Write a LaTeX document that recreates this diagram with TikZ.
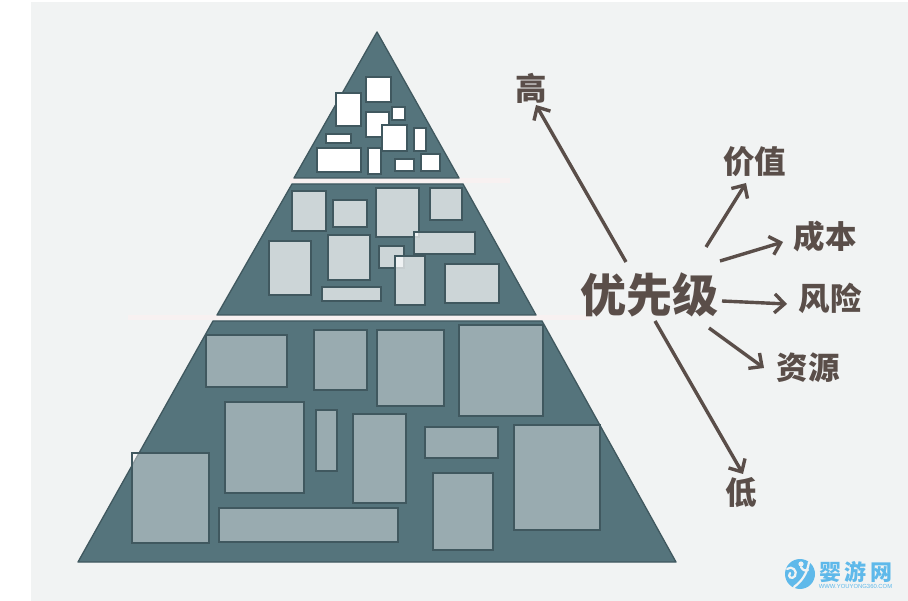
\documentclass[tikz,border=0pt]{standalone}
\usepackage{fontspec}
\usetikzlibrary{arrows.meta}
\newfontfamily\cjk{Noto Sans CJK SC}
\newfontfamily\latinwm{Liberation Sans}
\definecolor{panel}{HTML}{F1F3F3}
\definecolor{pyr}{HTML}{55747C}
\definecolor{edge}{HTML}{40585F}
\definecolor{ink}{HTML}{5A4E49}
\definecolor{band}{HTML}{F8F1F1}
\definecolor{wm}{HTML}{5FB9EA}
\tikzset{
  tier/.style={fill=pyr,draw=edge,line width=1.3pt,line join=round},
  boxa/.style={draw=edge,line width=1.8pt,fill=white},
  boxb/.style={draw=edge,line width=1.8pt,fill=white,fill opacity=.7},
  boxc/.style={draw=edge,line width=1.8pt,fill=white,fill opacity=.4},
  lbl/.style={font=\cjk\bfseries\fontsize{31.5}{32}\selectfont,text=ink,inner sep=0pt},
  bigl/.style={font=\cjk\bfseries\fontsize{46}{46}\selectfont,text=ink,inner sep=0pt},
  arr/.style={draw=ink,line width=3.4pt,-{Straight Barb[length=10pt,width=19pt,line width=3.4pt]}},
  swirl/.style={draw=panel,line width=2.2pt,line cap=round},
}
\newcommand{\rbox}[5]{\draw[#1] (#2,#3) rectangle (#4,#5);}
\begin{document}
\begin{tikzpicture}[x=1pt,y=-1pt]
\useasboundingbox (0,0) rectangle (908,601);
\fill[white] (0,0) rectangle (908,601);
\fill[panel] (31,2) rectangle (908,601);
% bands
\fill[band] (290,178.5) rectangle (510,183.5);
\fill[band] (128,315.5) rectangle (590,320.5);
% tiers
\draw[tier] (377,32) -- (459,178) -- (294,178) -- cycle;
\draw[tier] (292,184) -- (463,184) -- (536,315) -- (217,315) -- cycle;
\draw[tier] (213,321) -- (542,321) -- (676,562) -- (78,562) -- cycle;
% top boxes
\rbox{boxa}{335.7}{93}{361}{126}
\rbox{boxa}{366}{77}{391}{102}
\rbox{boxa}{366}{112}{389}{137}
\rbox{boxa}{391.7}{107}{405}{120}
\rbox{boxa}{381.7}{125}{407}{151}
\rbox{boxa}{414}{128}{426}{151}
\rbox{boxa}{326}{134}{351}{143}
\rbox{boxa}{317}{148}{361}{172}
\rbox{boxa}{368}{148}{381}{174}
\rbox{boxa}{395}{159}{414}{171}
\rbox{boxa}{421}{154}{440}{171}
% middle boxes
\rbox{boxb}{292}{191}{326}{231}
\rbox{boxb}{333}{200}{367}{227}
\rbox{boxb}{376}{188}{419}{237}
\rbox{boxb}{430}{188}{462}{220}
\rbox{boxb}{414}{232}{475}{254}
\rbox{boxb}{269}{241}{311}{295}
\rbox{boxb}{328}{235}{370}{280}
\rbox{boxb}{379}{246}{404}{268}
\rbox{boxb}{395}{256}{425}{305}
\rbox{boxb}{445}{264}{499}{303}
\rbox{boxb}{322}{287}{381}{301}
% bottom boxes
\rbox{boxc}{206}{335}{287}{387}
\rbox{boxc}{314}{330}{367}{390}
\rbox{boxc}{377}{330}{444}{406}
\rbox{boxc}{459}{325}{543}{416}
\rbox{boxc}{225}{402}{304}{493}
\rbox{boxc}{316}{410}{337}{471}
\rbox{boxc}{353}{414}{406}{503}
\rbox{boxc}{425}{427}{498}{458}
\rbox{boxc}{514}{425}{600}{530}
\rbox{boxc}{433}{473}{493}{550}
\rbox{boxc}{132}{453}{209}{543}
\rbox{boxc}{219}{508}{398}{542}
% labels
\node[bigl] (pri) at (649.5,295) {优先级};
\node[lbl] (gao) at (531,88) {高};
\node[lbl] (jia) at (754.5,162) {价值};
\node[lbl] (cheng) at (825,237) {成本};
\node[lbl] (feng) at (830,298) {风险};
\node[lbl] (zi) at (808,368) {资源};
\node[lbl] (di) at (741.5,493) {低};
% arrows
\draw[arr] ([shift={(-23.5,-33)}]pri.center) -- ([shift={(5,17)}]gao.center);
\draw[arr] ([shift={(56.5,-48)}]pri.center) -- ([shift={(-8.5,21)}]jia.center);
\draw[arr] ([shift={(70.5,-34)}]pri.center) -- ([shift={(-42,5)}]cheng.center);
\draw[arr] ([shift={(72.5,6)}]pri.center) -- ([shift={(-43,6)}]feng.center);
\draw[arr] ([shift={(59.5,33)}]pri.center) -- ([shift={(-44,0)}]zi.center);
\draw[arr] ([shift={(5.5,26)}]pri.center) -- ([shift={(1.5,-19)}]di.center);
% watermark
\fill[wm] (800,574) circle (15);
\draw[swirl] (809,562) .. controls (807,574) and (802,581) .. (794,587);
\draw[swirl] (801,567) .. controls (803,571) and (806,571) .. (808,570);
\fill[panel] (801,564) circle (2.6);
\draw[swirl] (787,569) .. controls (792,565) and (798,571) .. (795,576) .. controls (792,580) and (787,577) .. (790,573);
\node[font=\cjk\bfseries\fontsize{22}{24}\selectfont,text=wm,inner sep=0pt] (wmt) at (855.5,572) {婴\hspace{3.5pt}游\hspace{3.5pt}网};
\node[font=\latinwm\fontsize{5.9}{7}\selectfont,text=wm,inner sep=0pt] (wmu) at (855.5,586) {WWW.YOUYONG360.COM};
\end{tikzpicture}
\end{document}
